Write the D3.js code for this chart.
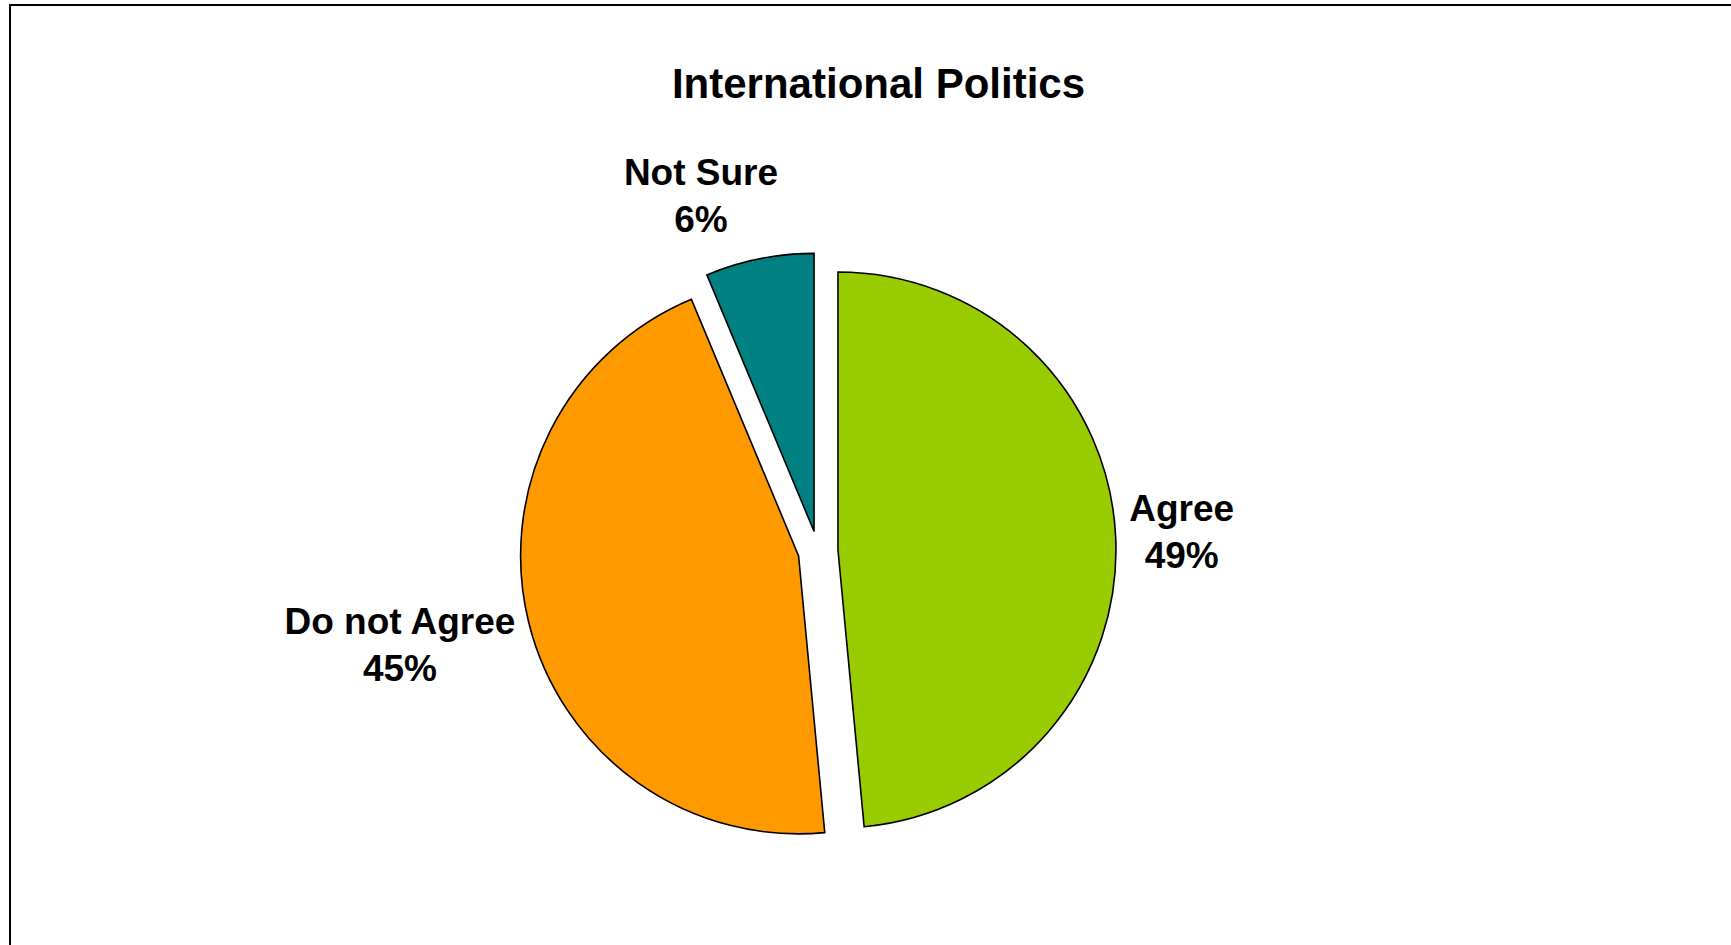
<!DOCTYPE html>
<html>
<head>
<meta charset="utf-8">
<script src="https://cdn.jsdelivr.net/npm/d3@7"></script>
<style>
  html, body { margin: 0; padding: 0; background: #fff; }
  svg { display: block; }
</style>
</head>
<body>
<svg id="chart" width="1731" height="945"></svg>
<script>
// ---- data ----
const title = "International Politics";
const categories = ["Agree", "Do not Agree", "Not Sure"];
const values = [48.5, 45.2, 6.3];
const colors = ["#99CC00", "#FF9900", "#008080"];

// ---- layout ----
const W = 1731, H = 945;
const cx = 818, cy = 551;
const radius = 278;
const explode = 20;
const labelGap = 290;
const labelFont = 37, lineGap = 47;
const labelNudge = { "Not Sure": [-46, -2], "Do not Agree": [0, -11], "Agree": [0, -3] };

const svg = d3.select("#chart");

// frame (extends past the right and bottom edges, as in the source)
svg.append("rect")
  .attr("x", 10).attr("y", 5)
  .attr("width", 1737).attr("height", 1000)
  .attr("fill", "#fff").attr("stroke", "#000").attr("stroke-width", 2);

svg.append("text")
  .attr("x", 878.5).attr("y", 98)
  .attr("text-anchor", "middle")
  .attr("font-family", "Liberation Sans, Arial, sans-serif")
  .attr("font-weight", "bold").attr("font-size", 42)
  .text(title);

const data = categories.map((c, i) => ({ name: c, value: values[i], color: colors[i] }));
const pie = d3.pie().sort(null).value(d => d.value).startAngle(0).endAngle(2 * Math.PI);
const arcs = pie(data);
const arc = d3.arc().innerRadius(0).outerRadius(radius);

const g = svg.append("g").attr("transform", `translate(${cx},${cy})`);

arcs.forEach(a => {
  const mid = (a.startAngle + a.endAngle) / 2;
  a.mid = mid;
  a.ox = explode * Math.sin(mid);
  a.oy = -explode * Math.cos(mid);
});

g.selectAll("path.slice")
  .data(arcs)
  .join("path")
  .attr("class", "slice")
  .attr("transform", d => `translate(${d.ox},${d.oy})`)
  .attr("d", arc)
  .attr("fill", d => d.data.color)
  .attr("stroke", "#000")
  .attr("stroke-width", 1.6)
  .attr("stroke-linejoin", "miter");

// labels
const lg = g.selectAll("g.label")
  .data(arcs)
  .join("g")
  .attr("class", "label");

lg.each(function(d) {
  const sel = d3.select(this);
  const t = sel.append("text")
    .attr("text-anchor", "middle")
    .attr("font-family", "Liberation Sans, Arial, sans-serif")
    .attr("font-weight", "bold")
    .attr("font-size", labelFont)
    .attr("fill", "#000");
  t.append("tspan").attr("x", 0).attr("y", 0).text(d.data.name);
  t.append("tspan").attr("x", 0).attr("y", lineGap).text(Math.round(d.data.value) + "%");
  const bb = t.node().getBBox();
  const w = bb.width;
  const capTop = -0.716 * labelFont;
  const h = lineGap - capTop;
  const centerOff = (capTop + lineGap) / 2;
  const s = Math.sin(d.mid), c = Math.cos(d.mid);
  const ext = Math.abs(w / 2 * s) + Math.abs(h / 2 * c);
  const nudge = labelNudge[d.data.name] || [0, 0];
  const bx = d.ox + (labelGap + ext) * s + nudge[0];
  const by = d.oy - (labelGap + ext) * c + nudge[1];
  sel.attr("transform", `translate(${bx},${by - centerOff})`);
});
</script>
</body>
</html>
